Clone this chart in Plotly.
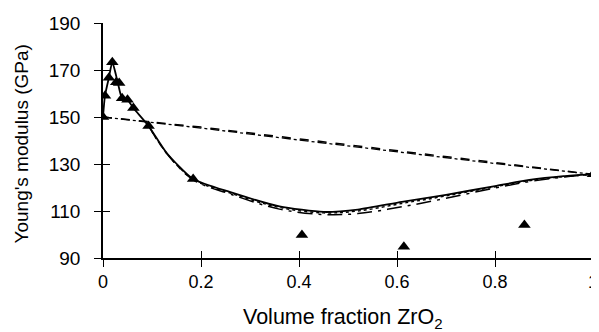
import plotly.graph_objects as go

# Experimental data (triangles)
exp_x = [0.0, 0.004, 0.012, 0.019, 0.027, 0.033, 0.039, 0.05, 0.062, 0.093, 0.184, 0.406, 0.614, 0.86, 1.0]
exp_y = [150.0, 159.0, 166.7, 173.3, 164.8, 164.5, 158.0, 157.3, 153.8, 146.2, 123.6, 99.8, 94.8, 104.0, 125.6]

# Model curve (solid) through low-fraction data
solid_x = [0.0, 0.004, 0.012, 0.019, 0.03, 0.039, 0.05, 0.062, 0.093, 0.13, 0.184, 0.26, 0.36, 0.45, 0.52, 0.61, 0.70, 0.80, 0.87, 0.94, 1.0]
solid_y = [150.0, 159.0, 166.7, 173.3, 164.8, 158.0, 157.3, 153.8, 146.2, 134.7, 123.6, 118.0, 112.0, 109.6, 110.6, 113.9, 116.9, 120.6, 123.2, 124.8, 125.6]

# Lower dash-dot model curve
dashdot_x = [0.093, 0.13, 0.184, 0.26, 0.36, 0.45, 0.52, 0.61, 0.70, 0.80, 0.87, 0.94, 1.0]
dashdot_y = [146.2, 134.5, 123.3, 117.2, 110.8, 108.5, 108.9, 111.8, 115.4, 119.8, 122.5, 124.4, 125.6]

# Lower dotted model curve
dot_x = [0.093, 0.13, 0.184, 0.26, 0.36, 0.45, 0.52, 0.61, 0.70, 0.80, 0.87, 0.94, 1.0]
dot_y = [146.2, 134.6, 123.5, 117.6, 111.5, 109.2, 110.0, 113.2, 116.4, 120.3, 122.9, 124.6, 125.6]

# Upper (nearly linear) model curves
upper1_x = [0.0, 0.2, 0.4, 0.6, 0.8, 1.0]
upper1_y = [150.0, 145.7, 140.7, 135.6, 130.6, 125.6]
upper2_x = [0.0, 0.2, 0.4, 0.6, 0.8, 1.0]
upper2_y = [150.0, 145.3, 140.2, 135.1, 130.2, 125.6]

x_ticks = [0, 0.2, 0.4, 0.6, 0.8, 1]
x_labels = ["0", "0.2", "0.4", "0.6", "0.8", "1"]
y_ticks = [90, 110, 130, 150, 170, 190]

x_title = "Volume fraction ZrO<sub>2</sub>"
y_title = "Young's modulus (GPa)"

FONT = "Liberation Sans, Arial, sans-serif"

fig = go.Figure()
fig.add_trace(go.Scatter(x=upper1_x, y=upper1_y, mode="lines",
                         line=dict(color="black", width=1.5, dash="dash")))
fig.add_trace(go.Scatter(x=upper2_x, y=upper2_y, mode="lines",
                         line=dict(color="black", width=1.3, dash="dashdot")))
fig.add_trace(go.Scatter(x=dot_x, y=dot_y, mode="lines",
                         line=dict(color="black", width=1.4, dash="dot", shape="spline")))
fig.add_trace(go.Scatter(x=dashdot_x, y=dashdot_y, mode="lines",
                         line=dict(color="black", width=1.5, dash="longdashdot", shape="spline")))
fig.add_trace(go.Scatter(x=solid_x, y=solid_y, mode="lines",
                         line=dict(color="black", width=1.8, shape="spline", smoothing=0.6)))
fig.add_trace(go.Scatter(x=exp_x, y=exp_y, mode="markers",
                         marker=dict(symbol="triangle-up", size=11, color="black")))
# invisible trace for overlay axes (inside half of cross ticks)
fig.add_trace(go.Scatter(x=[0.5], y=[140], mode="markers", xaxis="x2", yaxis="y2",
                         marker=dict(opacity=0, size=1), hoverinfo="skip"))

# page body has an 8px default margin, so the figure is sized/offset to compensate
fig.update_layout(
    width=591, height=324,
    margin=dict(l=95, r=6, t=15, b=74),
    paper_bgcolor="white", plot_bgcolor="white",
    showlegend=False,
    font=dict(family=FONT, color="black", size=18),
    xaxis=dict(range=[0, 1], tickvals=x_ticks, ticktext=x_labels, automargin=False,
               showgrid=False, zeroline=False, showline=True, linecolor="black", linewidth=1.5,
               ticks="outside", ticklen=7, tickwidth=1.4, tickcolor="black",
               ticklabelstandoff=0,
               tickfont=dict(size=18, family=FONT)),
    yaxis=dict(range=[90, 190], tickvals=y_ticks, automargin=False,
               showgrid=False, zeroline=False, showline=True, linecolor="black", linewidth=1.5,
               ticks="outside", ticklen=7, tickwidth=1.4, tickcolor="black",
               ticklabelstandoff=10,
               tickfont=dict(size=19, family=FONT)),
    xaxis2=dict(range=[0, 1], tickvals=x_ticks, overlaying="x", showticklabels=False,
                automargin=False, showgrid=False, zeroline=False, showline=False,
                ticks="inside", ticklen=7, tickwidth=1.4, tickcolor="black"),
    yaxis2=dict(range=[90, 190], tickvals=y_ticks, overlaying="y", showticklabels=False,
                automargin=False, showgrid=False, zeroline=False, showline=False,
                ticks="inside", ticklen=7, tickwidth=1.4, tickcolor="black"),
    annotations=[
        dict(text=x_title, xref="paper", yref="paper", x=0.49, y=0,
             xanchor="center", yanchor="middle", yshift=-60, showarrow=False,
             font=dict(size=21.5, family=FONT, color="black")),
        dict(text=y_title, xref="paper", yref="paper", x=0, y=0.5, textangle=-90,
             xanchor="center", yanchor="middle", xshift=-82, yshift=-4, showarrow=False,
             font=dict(size=19, family=FONT, color="black")),
    ],
)

fig.write_html("out.html")
